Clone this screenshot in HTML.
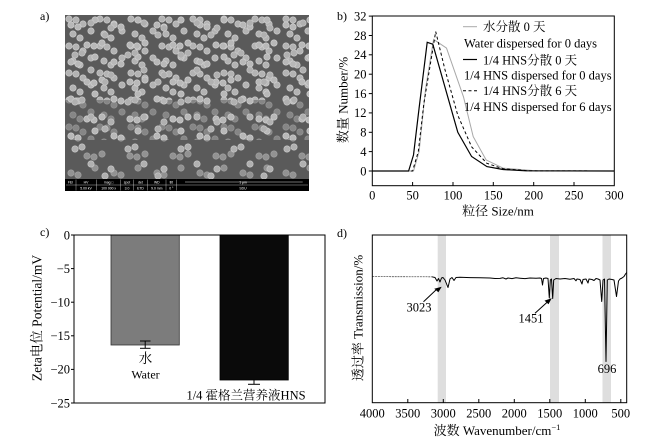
<!DOCTYPE html>
<html>
<head>
<meta charset="utf-8">
<style>
html,body{margin:0;padding:0;background:#fff;}
svg{display:block;}
</style>
</head>
<body>
<svg width="658" height="446" viewBox="0 0 658 446" xmlns="http://www.w3.org/2000/svg" font-family="'Liberation Serif','Noto Serif CJK SC',serif" fill="#000">
<defs>
  <pattern id="p1" width="31" height="27" patternUnits="userSpaceOnUse" x="65" y="15">
    <g fill="#b3b3b3" stroke="#cdcdcd" stroke-width="0.6">
      <circle cx="4" cy="4" r="3.2"/><circle cx="11" cy="5" r="3.2"/><circle cx="18" cy="9" r="3.2"/>
      <circle cx="26" cy="16" r="3.2"/><circle cx="8" cy="19" r="3.2"/><circle cx="15" cy="23" r="3.2"/>
    </g>
  </pattern>
  <pattern id="p2" width="43" height="37" patternUnits="userSpaceOnUse" x="65" y="15">
    <g fill="#b8b8b8" stroke="#d2d2d2" stroke-width="0.6">
      <circle cx="6" cy="10" r="3.2"/><circle cx="13" cy="12" r="3.2"/><circle cx="30" cy="5" r="3.2"/>
      <circle cx="37" cy="28" r="3.2"/><circle cx="22" cy="30" r="3.2"/><circle cx="29" cy="31" r="3.2"/>
    </g>
  </pattern>
  <pattern id="p3" width="53" height="47" patternUnits="userSpaceOnUse" x="65" y="15">
    <g fill="#b0b0b0" stroke="#cacaca" stroke-width="0.6">
      <circle cx="10" cy="40" r="3.2"/><circle cx="17" cy="38" r="3.2"/><circle cx="40" cy="20" r="3.2"/>
      <circle cx="46" cy="13" r="3.2"/><circle cx="26" cy="8" r="3.2"/>
    </g>
  </pattern>
</defs>

<!-- ================= Panel a ================= -->
<text x="40" y="20" font-size="12">a)</text>
<rect x="65" y="15" width="244" height="164" fill="#5a5a5a"/>
<rect x="65" y="15" width="244" height="85" fill="url(#p1)"/>
<rect x="65" y="100" width="244" height="40" fill="url(#p1)" opacity="0.5"/>
<rect x="65" y="15" width="244" height="125" fill="url(#p2)"/>
<rect x="65" y="140" width="244" height="39" fill="url(#p2)" opacity="0.6"/>
<rect x="65" y="15" width="244" height="164" fill="url(#p3)"/>
<!-- info bar -->
<rect x="65" y="179" width="244" height="12" fill="#000"/>
<g stroke="#ddd" stroke-width="0.4">
  <line x1="76" y1="179.5" x2="76" y2="190.5"/>
  <line x1="96.7" y1="179.5" x2="96.7" y2="190.5"/>
  <line x1="120.7" y1="179.5" x2="120.7" y2="190.5"/>
  <line x1="133.3" y1="179.5" x2="133.3" y2="190.5"/>
  <line x1="147.7" y1="179.5" x2="147.7" y2="190.5"/>
  <line x1="166" y1="179.5" x2="166" y2="190.5"/>
  <line x1="176.7" y1="179.5" x2="176.7" y2="190.5"/>
  <line x1="66" y1="185" x2="308" y2="185"/>
  <line x1="185" y1="182" x2="302.7" y2="182" stroke-width="0.6"/>
</g>
<g fill="#fff" font-family="'Liberation Sans',sans-serif" font-size="3.4" text-anchor="middle">
  <text x="70.5" y="183.5">FEI</text>
  <text x="86" y="183.5">HV</text><text x="86" y="189.5">5.00 kV</text>
  <text x="108.7" y="183.5">mag □</text><text x="108.7" y="189.5">100 000 x</text>
  <text x="127" y="183.5">spot</text><text x="127" y="189.5">3.0</text>
  <text x="140.5" y="183.5">det</text><text x="140.5" y="189.5">ETD</text>
  <text x="156.8" y="183.5">WD</text><text x="156.8" y="189.5">9.0 mm</text>
  <text x="171.3" y="183.5">tilt</text><text x="171.3" y="189.5">0 °</text>
  <text x="243" y="183.3">1 μm</text>
  <text x="243" y="189.5">SDU</text>
</g>

<!-- ================= Panel b ================= -->
<text x="337" y="20" font-size="12">b)</text>
<polyline fill="none" stroke="#a8a8a8" stroke-width="1" points="372.3,171 413.5,171 419.1,151.6 425.6,88.7 433.6,39.4 446.5,48.1 463.5,96.9 473.2,136.6 486.1,159.9 503,168.1 533.7,170.6 614.3,171"/>
<polyline fill="none" stroke="#000" stroke-width="1" stroke-dasharray="3,2.5" points="372.3,171 412.6,171 418.3,151.6 423.9,103.2 435.7,31.6 444.9,69.4 457.8,115.3 471.6,146.8 486.9,163.3 503,168.8 529.7,170.8 614.3,171"/>
<polyline fill="none" stroke="#000" stroke-width="1.2" points="372.3,171 408.6,171 413.5,155 419.1,108.1 427.2,42.3 432.8,44.2 457.8,132.3 471.6,156.5 486.9,166.6 503,169.5 525.6,170.8 614.3,171"/>
<rect x="372.3" y="16" width="242" height="169.7" fill="none" stroke="#000" stroke-width="1"/>
<g stroke="#000" stroke-width="1">
  <line x1="368.8" y1="171" x2="372.3" y2="171"/>
  <line x1="368.8" y1="151.6" x2="372.3" y2="151.6"/>
  <line x1="368.8" y1="132.3" x2="372.3" y2="132.3"/>
  <line x1="368.8" y1="112.9" x2="372.3" y2="112.9"/>
  <line x1="368.8" y1="93.6" x2="372.3" y2="93.6"/>
  <line x1="368.8" y1="74.2" x2="372.3" y2="74.2"/>
  <line x1="368.8" y1="54.8" x2="372.3" y2="54.8"/>
  <line x1="368.8" y1="35.5" x2="372.3" y2="35.5"/>
  <line x1="368.8" y1="16.1" x2="372.3" y2="16.1"/>
  <line x1="412.6" y1="185.7" x2="412.6" y2="182"/>
  <line x1="453" y1="185.7" x2="453" y2="182"/>
  <line x1="493.3" y1="185.7" x2="493.3" y2="182"/>
  <line x1="533.7" y1="185.7" x2="533.7" y2="182"/>
  <line x1="574" y1="185.7" x2="574" y2="182"/>
</g>
<g font-size="12.5" text-anchor="end">
  <text x="366.5" y="175.3">0</text>
  <text x="366.5" y="155.9">4</text>
  <text x="366.5" y="136.6">8</text>
  <text x="366.5" y="117.2">12</text>
  <text x="366.5" y="97.9">16</text>
  <text x="366.5" y="78.5">20</text>
  <text x="366.5" y="59.1">24</text>
  <text x="366.5" y="39.8">28</text>
  <text x="366.5" y="20.4">32</text>
</g>
<g font-size="12.5" text-anchor="middle">
  <text x="372.3" y="199.5">0</text>
  <text x="412.6" y="199.5">50</text>
  <text x="453" y="199.5">100</text>
  <text x="493.3" y="199.5">150</text>
  <text x="533.7" y="199.5">200</text>
  <text x="574" y="199.5">250</text>
  <text x="614.3" y="199.5">300</text>
</g>
<text x="498" y="215.5" font-size="13" text-anchor="middle">粒径 Size/nm</text>
<text transform="translate(347.5,100) rotate(-90)" font-size="13" text-anchor="middle">数量 Number/%</text>
<line x1="463" y1="26.7" x2="477" y2="26.7" stroke="#a8a8a8" stroke-width="1"/>
<line x1="463" y1="59.5" x2="477" y2="59.5" stroke="#000" stroke-width="1.2"/>
<line x1="463" y1="90.7" x2="477" y2="90.7" stroke="#000" stroke-width="1" stroke-dasharray="3,2.5"/>
<g font-size="12.5">
  <text x="483" y="31">水分散 0 天</text>
  <text x="464" y="47.6">Water dispersed for 0 days</text>
  <text x="483" y="64.5">1/4 HNS分散 0 天</text>
  <text x="464" y="79.3">1/4 HNS dispersed for 0 days</text>
  <text x="483" y="95">1/4 HNS分散 6 天</text>
  <text x="464" y="111">1/4 HNS dispersed for 6 days</text>
</g>

<!-- ================= Panel c ================= -->
<text x="40" y="236" font-size="12">c)</text>
<rect x="111" y="235" width="68.3" height="110" fill="#7c7c7c" stroke="#333" stroke-width="0.8"/>
<rect x="220" y="235" width="68.3" height="145" fill="#0a0a0a" stroke="#000" stroke-width="0.8"/>
<g stroke="#000" stroke-width="1">
  <line x1="145.2" y1="341" x2="145.2" y2="348.3"/>
  <line x1="140" y1="341" x2="150.5" y2="341"/>
  <line x1="140" y1="348.3" x2="150.5" y2="348.3"/>
  <line x1="254" y1="380" x2="254" y2="384.3"/>
  <line x1="248" y1="384.3" x2="260" y2="384.3"/>
</g>
<rect x="74" y="235" width="251" height="168" fill="none" stroke="#000" stroke-width="1"/>
<g stroke="#000" stroke-width="1">
  <line x1="71" y1="235" x2="74" y2="235"/>
  <line x1="71" y1="268.6" x2="74" y2="268.6"/>
  <line x1="71" y1="302.2" x2="74" y2="302.2"/>
  <line x1="71" y1="335.8" x2="74" y2="335.8"/>
  <line x1="71" y1="369.4" x2="74" y2="369.4"/>
  <line x1="71" y1="403" x2="74" y2="403"/>
</g>
<g font-size="12.5" text-anchor="end">
  <text x="70" y="239.3">0</text>
  <text x="70" y="272.9">−5</text>
  <text x="70" y="306.5">−10</text>
  <text x="70" y="340.1">−15</text>
  <text x="70" y="373.7">−20</text>
  <text x="70" y="407.3">−25</text>
</g>
<g text-anchor="middle">
  <text x="145.5" y="363" font-size="13.5">水</text>
  <text x="145.5" y="378.5" font-size="12">Water</text>
  <text x="246" y="399.5" font-size="12.5">1/4 霍格兰营养液HNS</text>
</g>
<text transform="translate(41.5,318) rotate(-90)" font-size="13.5" text-anchor="middle">Zeta电位 Potential/mV</text>

<!-- ================= Panel d ================= -->
<text x="337" y="237" font-size="12">d)</text>
<g fill="#dedede">
  <rect x="437.7" y="235.5" width="8.3" height="167"/>
  <rect x="550" y="235.5" width="9" height="167"/>
  <rect x="602.5" y="235.5" width="8.5" height="167"/>
</g>
<polyline fill="none" stroke="#555" stroke-width="0.8" stroke-dasharray="2,0.8" points="372.3,276.6 432,276.8"/>
<polyline fill="none" stroke="#000" stroke-width="1" stroke-linejoin="round" points="432,276.8 435,277.5 437,281 438.5,278.5 440,282 441.5,278 443,277.5 445,280 448,287.5 450,279 452,277.5 454,280.5 456,277.5 460,277.3 470,277.6 480,277.8 490,278 495,278.5 500,278.4 503,277.8 506,279 508,278 512,278.6 516,277.8 520,278.2 525,278.6 530,278 536,278.3 540,278 541.5,278.5 542.5,285 543.5,278.5 546,278 548,278.5 549.3,298 550.3,280 551.5,279 552.7,298.5 553.7,280 556,278.5 560,279 565,278.5 570,279.2 574,278.5 576,280.8 577,279 580,279.5 582,284 583,279.5 586,279 588,283 589,279 592,279.5 594,280.5 596,278.5 598,279 600,280 601.7,301.5 603,280 604.5,279 606,361.5 607.3,280 609,279 612,279.5 614,280 616.5,296.5 618.5,281 620,279 622,278 624,276.5 625.5,274 626.7,272.5"/>
<rect x="372.3" y="235" width="254.4" height="167.7" fill="none" stroke="#000" stroke-width="1"/>
<g stroke="#000" stroke-width="1">
  <line x1="407.8" y1="402.7" x2="407.8" y2="399"/>
  <line x1="443.3" y1="402.7" x2="443.3" y2="399"/>
  <line x1="478.8" y1="402.7" x2="478.8" y2="399"/>
  <line x1="514.3" y1="402.7" x2="514.3" y2="399"/>
  <line x1="549.8" y1="402.7" x2="549.8" y2="399"/>
  <line x1="585.3" y1="402.7" x2="585.3" y2="399"/>
  <line x1="620.8" y1="402.7" x2="620.8" y2="399"/>
</g>
<g font-size="12.5" text-anchor="middle">
  <text x="372.3" y="417.5">4000</text>
  <text x="407.8" y="417.5">3500</text>
  <text x="443.3" y="417.5">3000</text>
  <text x="478.8" y="417.5">2500</text>
  <text x="514.3" y="417.5">2000</text>
  <text x="549.8" y="417.5">1500</text>
  <text x="585.3" y="417.5">1000</text>
  <text x="620.8" y="417.5">500</text>
</g>
<text x="497" y="435" font-size="13" text-anchor="middle">波数 Wavenumber/cm<tspan dy="-5" font-size="8.5">−1</tspan></text>
<text transform="translate(362.5,318) rotate(-90)" font-size="13" text-anchor="middle">透过率 Transmission/%</text>
<g stroke="#000" stroke-width="1">
  <line x1="423.5" y1="301.7" x2="437" y2="289"/>
  <line x1="535" y1="313.3" x2="548.5" y2="301"/>
</g>
<polygon points="441.7,286.7 434.3,288.8 438.4,292.3" fill="#000"/>
<polygon points="551.7,298.3 544.5,300.6 548.5,304.2" fill="#000"/>
<g font-size="12.5" text-anchor="middle">
  <text x="419" y="311.5">3023</text>
  <text x="531" y="322.5">1451</text>
  <text x="607" y="372.8">696</text>
</g>
</svg>
</body>
</html>
